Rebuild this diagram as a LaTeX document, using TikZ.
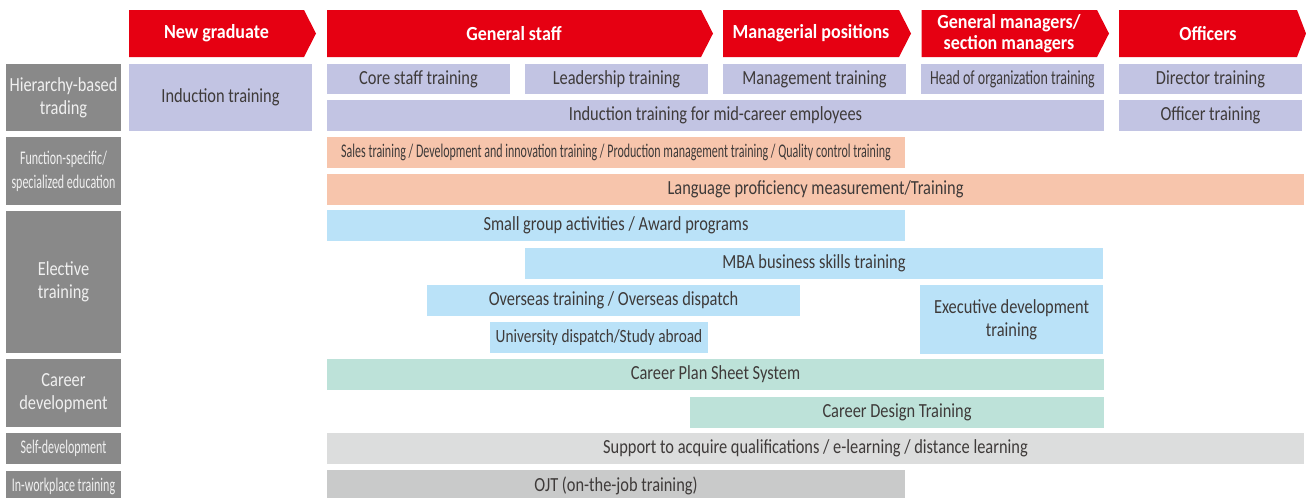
\documentclass[tikz,border=0pt]{standalone}
\usepackage{fontspec}
\setmainfont{Carlito}[FakeStretch=0.82]
\newfontfamily\narrowfont{Carlito}[FakeStretch=0.62]
\newfontfamily\midfont{Carlito}[FakeStretch=0.7]
\newfontfamily\headfont{Carlito}[FakeStretch=0.9]
\usepackage{xcolor}
\definecolor{hdrred}{HTML}{E60012}
\definecolor{lavc}{HTML}{C2C4E3}
\definecolor{salc}{HTML}{F7C5AC}
\definecolor{bluec}{HTML}{BAE2F8}
\definecolor{mintc}{HTML}{BDE2D9}
\definecolor{lgrayc}{HTML}{DCDDDD}
\definecolor{mgrayc}{HTML}{C9CACA}
\definecolor{lblc}{HTML}{898989}
\definecolor{txtc}{HTML}{3E3A39}
\tikzset{
  sz/.style 2 args={minimum width={#1*0.75pt}, minimum height={#2*0.75pt}},
  blk/.style={inner sep=0pt, outer sep=0pt, align=center, text=txtc,
              font=\fontsize{15}{17}\selectfont},
  lav/.style={blk, fill=lavc},
  sal/.style={blk, fill=salc},
  sky/.style={blk, fill=bluec},
  mint/.style={blk, fill=mintc},
  lgray/.style={blk, fill=lgrayc},
  mgray/.style={blk, fill=mgrayc},
  rowlbl/.style={blk, fill=lblc, text=white!94!black},
  narrow/.style={font=\narrowfont\fontsize{14.5}{18}\selectfont},
  hdr/.style={fill=hdrred},
  hdrtxt/.style={text=white, align=center,
                 font=\headfont\bfseries\fontsize{15}{16}\selectfont}
}
\begin{document}
\begin{tikzpicture}[x=0.75pt, y=-0.75pt]
\useasboundingbox (0,0) rectangle (1306,497);

\fill[hdr] (129,10) -- (304,10) -- (316,33.5) -- (304,57) -- (129,57) -- cycle;
\node[hdrtxt] (hnew) at (216.5,33.5) {New graduate};
\fill[hdr] (327,10) -- (701,10) -- (713,33.5) -- (701,57) -- (327,57) -- cycle;
\node[hdrtxt] (hstaff) at (514,33.5) {General staff};
\fill[hdr] (723,10) -- (899,10) -- (911,33.5) -- (899,57) -- (723,57) -- cycle;
\node[hdrtxt] (hmgr) at (811,33.5) {Managerial positions};
\fill[hdr] (921.5,10) -- (1097,10) -- (1109,33.5) -- (1097,57) -- (921.5,57) -- cycle;
\node[hdrtxt] (hgm) at (1009,33.5) {General managers/\\section managers};
\fill[hdr] (1119,10) -- (1297,10) -- (1306,33.5) -- (1297,57) -- (1119,57) -- cycle;
\node[hdrtxt] (hoff) at (1208,33.5) {Officers};

\node[rowlbl, sz={115}{67}] (rhier) at (63.5,97.5) {Hierarchy-based\\trading};
\node[rowlbl, sz={115}{68}, narrow] (rfunc) at (63.5,171) {Function-specific/\\specialized education};
\node[rowlbl, sz={115}{142}] (relect) at (63.5,282) {Elective\\training};
\node[rowlbl, sz={115}{68}] (rcareer) at (63.5,393) {Career\\development};
\node[rowlbl, sz={115}{31}, narrow] (rself) at (63.5,448.5) {Self-development};
\node[rowlbl, sz={115}{30}, narrow] (rwork) at (63.5,486) {In-workplace training};

\node[lav, sz={183}{67}] (induct) at (220.5,97.5) {Induction training};
\node[lav, sz={183}{30}] (core) at (418.5,79) {Core staff training};
\node[lav, sz={183}{30}] (lead) at (616.5,79) {Leadership training};
\node[lav, sz={183}{30}] (mgmt) at (814.5,79) {Management training};
\node[lav, sz={183}{30}, font=\midfont\fontsize{15}{17}\selectfont] (headorg) at (1012.5,79) {Head of organization training};
\node[lav, sz={183}{30}] (director) at (1210.5,79) {Director training};
\node[lav, sz={777}{31}] (midcar) at (715.5,115.5) {Induction training for mid-career employees};
\node[lav, sz={183}{31}] (officer) at (1210.5,115.5) {Officer training};

\node[sal, sz={578}{31}, narrow] (sales) at (616,152.5) {Sales training / Development and innovation training / Production management training / Quality control training};
\node[sal, sz={977}{31}] (lang) at (815.5,189.5) {Language proficiency measurement/Training};

\node[sky, sz={578}{31}] (small) at (616,225.5) {Small group activities / Award programs};
\node[sky, sz={578}{31}] (mba) at (814,263.5) {MBA business skills training};
\node[sky, sz={373}{31}] (overseas) at (613.5,300.5) {Overseas training / Overseas dispatch};
\node[sky, sz={183}{69}] (exec) at (1011.5,319.5) {Executive development\\training};
\node[sky, sz={218}{31}, font=\fontsize{14}{17}\selectfont] (univ) at (599,337.5) {University dispatch/Study abroad};

\node[mint, sz={777}{31}] (cps) at (715.5,374.5) {Career Plan Sheet System};
\node[mint, sz={414}{31}] (cdt) at (897,412.5) {Career Design Training};

\node[lgray, sz={977}{31}] (support) at (815.5,448.5) {Support to acquire qualifications / e-learning / distance learning};
\node[mgray, sz={578}{31}] (ojt) at (616,485.5) {OJT (on-the-job training)};

\end{tikzpicture}
\end{document}
